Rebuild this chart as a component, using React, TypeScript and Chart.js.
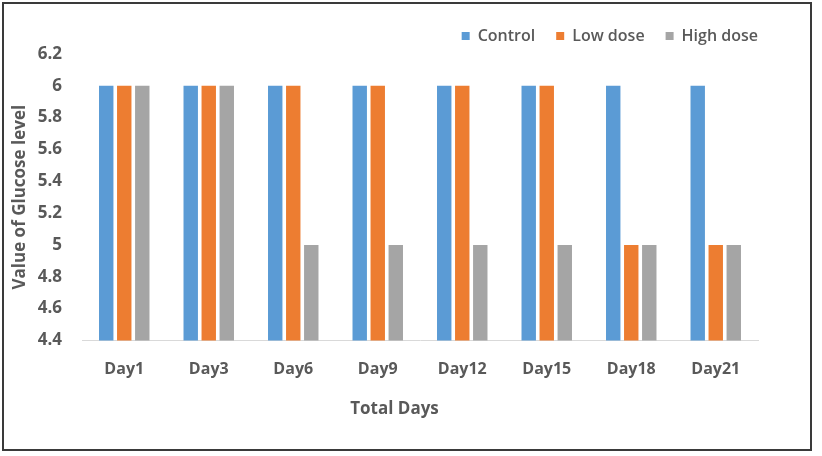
import React, { useEffect, useRef } from "react";
import { Chart, registerables } from "chart.js";

Chart.register(...registerables);

const categories = ["Day1", "Day3", "Day6", "Day9", "Day12", "Day15", "Day18", "Day21"];
const controlValues = [6, 6, 6, 6, 6, 6, 6, 6];
const lowDoseValues = [6, 6, 6, 6, 6, 6, 5, 5];
const highDoseValues = [6, 6, 5, 5, 5, 5, 5, 5];
const seriesNames = ["Control", "Low dose", "High dose"];
const yMin = 4.4;
const yMax = 6.2;
const yStep = 0.2;

const FONT = "'Open Sans', 'Liberation Sans', sans-serif";
const TEXT = "#595959";

export default function App() {
  const ref = useRef<HTMLCanvasElement | null>(null);

  useEffect(() => {
    if (!ref.current) return;
    const chart = new Chart(ref.current, {
      type: "bar",
      data: {
        labels: categories,
        datasets: [
          { label: seriesNames[0], data: controlValues, backgroundColor: "#5B9BD5" },
          { label: seriesNames[1], data: lowDoseValues, backgroundColor: "#ED7D31" },
          { label: seriesNames[2], data: highDoseValues, backgroundColor: "#A5A5A5" },
        ],
      },
      options: {
        responsive: false,
        animation: false,
        devicePixelRatio: 1,
        layout: { padding: { left: 10, right: 43, top: 7, bottom: 37 } },
        datasets: { bar: { categoryPercentage: 0.64, barPercentage: 0.8 } },
        plugins: {
          tooltip: { enabled: false },
          legend: {
            position: "top",
            align: "end",
            maxHeight: 48,
            labels: {
              boxWidth: 8,
              boxHeight: 8,
              padding: 21,
              color: TEXT,
              font: { family: FONT, size: 16, weight: 600 },
            },
          },
          title: {
            display: true,
            position: "bottom",
            text: "Total Days",
            color: TEXT,
            font: { family: FONT, size: 17, weight: "bold" },
            padding: { top: 1, bottom: 0 },
          },
        },
        scales: {
          x: {
            grid: { display: false, drawTicks: false },
            border: { display: true, color: "#D9D9D9", width: 1 },
            ticks: {
              color: TEXT,
              padding: 19,
              font: { family: FONT, size: 16, weight: "bold" },
            },
          },
          y: {
            min: yMin,
            max: yMax,
            grid: { display: false, drawTicks: false },
            border: { display: false },
            ticks: {
              stepSize: yStep,
              color: TEXT,
              padding: 20,
              font: { family: FONT, size: 17, weight: "bold" },
              callback: (v: any) => String(Number(Number(v).toFixed(1))),
            },
            title: {
              display: true,
              text: "Value of Glucose level",
              color: TEXT,
              font: { family: FONT, size: 17, weight: "bold" },
              padding: { top: 0, bottom: 0 },
            },
            afterFit: (s: any) => {
              s.width = 72;
            },
          },
          yRightSpace: {
            position: "right",
            display: true,
            grid: { display: false, drawTicks: false },
            border: { display: false },
            ticks: { display: false },
            afterFit: (s: any) => {
              s.width = 21;
            },
          },
        },
      },
    });
    return () => chart.destroy();
  }, []);

  return (
    <div style={{ position: "fixed", left: 0, top: 0, width: 822, height: 456, background: "#fff" }}>
      <canvas ref={ref} width={822} height={456} style={{ position: "absolute", left: 0, top: 0 }} />
      <div
        style={{
          position: "absolute",
          left: 2,
          top: 2,
          width: 806,
          height: 445,
          border: "2px solid #3a3a3a",
          pointerEvents: "none",
        }}
      />
    </div>
  );
}
